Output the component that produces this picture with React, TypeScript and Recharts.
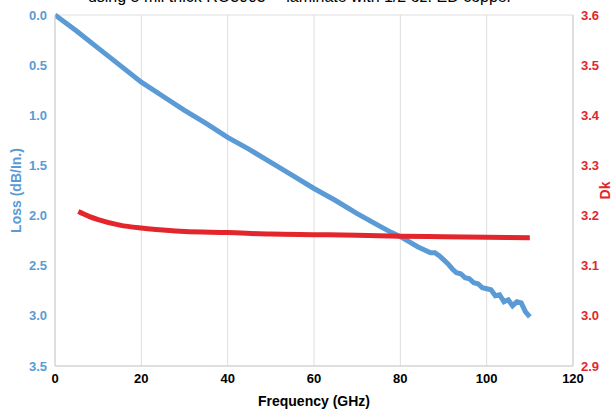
import React from "react";
import {
  ComposedChart,
  Line,
  XAxis,
  YAxis,
  CartesianGrid,
} from "recharts";

const freqTicks = [0, 20, 40, 60, 80, 100, 120];
const lossTicks = [0, 0.5, 1, 1.5, 2, 2.5, 3, 3.5];
const dkTicks = [2.9, 3.0, 3.1, 3.2, 3.3, 3.4, 3.5, 3.6];

const lossFreq = [
  0, 5, 10, 15, 20, 25, 30, 35, 40, 45, 50, 55, 60, 65, 70, 75, 78, 80, 82, 84,
  86, 87, 88, 89, 90, 91, 92, 93, 94, 95, 96, 97, 98, 99, 100, 101, 102, 103,
  104, 105, 106, 107, 108, 109, 110,
];
const lossValues = [
  0.0, 0.16, 0.33, 0.5, 0.67, 0.81, 0.95, 1.08, 1.22, 1.34, 1.47, 1.6, 1.73,
  1.85, 1.98, 2.1, 2.17, 2.21, 2.26, 2.31, 2.35, 2.37, 2.37, 2.4, 2.44, 2.48,
  2.53, 2.57, 2.58, 2.62, 2.63, 2.67, 2.68, 2.72, 2.73, 2.74, 2.8, 2.79, 2.86,
  2.84, 2.9, 2.86, 2.87, 2.96, 3.01,
];

const dkFreq = [5.4, 8, 10, 15, 20, 25, 30, 40, 50, 60, 70, 80, 90, 100, 110];
const dkValues = [
  3.208, 3.198, 3.192, 3.181, 3.175, 3.171, 3.168, 3.166, 3.163, 3.162, 3.161,
  3.159, 3.158, 3.157, 3.156,
];

const lossData = lossFreq.map((f, i) => ({ freq: f, loss: lossValues[i] }));
const dkData = dkFreq.map((f, i) => ({ freq: f, dk: dkValues[i] }));

const BLUE = "#5b9bd5";
const RED = "#e3262c";
const font = "'Liberation Sans', Arial, sans-serif";

export default function App() {
  return (
    <div
      style={{
        position: "absolute",
        left: 0,
        top: 0,
        width: 615,
        height: 410,
        overflow: "hidden",
        background: "#fff",
        fontFamily: font,
      }}
    >
      <div
        style={{
          position: "absolute",
          top: -12,
          left: 0,
          width: 600,
          textAlign: "center",
          fontSize: 16,
          color: "#000",
        }}
      >
        using 5 mil thick RO3003™ laminate with 1/2 oz. ED copper
      </div>
      <ComposedChart
        width={615}
        height={410}
        margin={{ top: 15, right: 7, bottom: 0, left: 10 }}
      >
        <CartesianGrid stroke="#dedede" />
        <XAxis
          dataKey="freq"
          type="number"
          domain={[0, 120]}
          ticks={freqTicks}
          allowDataOverflow
          height={44}
          tickLine={false}
          axisLine={{ stroke: "#cfcfcf" }}
          tick={{ fontFamily: font, fontSize: 13, fontWeight: 700, fill: "#000" }}
          label={{
            value: "Frequency (GHz)",
            position: "insideBottom",
            offset: 4,
            style: { fontFamily: font, fontSize: 14, fontWeight: 700, fill: "#000" },
          }}
        />
        <YAxis
          yAxisId="loss"
          reversed
          domain={[0, 3.5]}
          ticks={lossTicks}
          width={45}
          tickLine={false}
          axisLine={{ stroke: "#cfcfcf" }}
          tickFormatter={(v) => v.toFixed(1)}
          tick={{ fontFamily: font, fontSize: 13, fontWeight: 700, fill: BLUE }}
          label={{
            value: "Loss (dB/In.)",
            angle: -90,
            position: "insideLeft",
            offset: 6,
            style: { textAnchor: "middle", fontFamily: font, fontSize: 14, fontWeight: 700, fill: BLUE },
          }}
        />
        <YAxis
          yAxisId="dk"
          orientation="right"
          domain={[2.9, 3.6]}
          ticks={dkTicks}
          width={35}
          tickLine={false}
          axisLine={{ stroke: "#cfcfcf" }}
          tickFormatter={(v) => v.toFixed(1)}
          tick={{ fontFamily: font, fontSize: 13, fontWeight: 700, fill: RED }}
          label={{
            value: "Dk",
            angle: -90,
            position: "insideRight",
            offset: 3,
            style: { textAnchor: "middle", fontFamily: font, fontSize: 14, fontWeight: 700, fill: RED },
          }}
        />
        <Line
          yAxisId="loss"
          data={lossData}
          dataKey="loss"
          type="linear"
          stroke={BLUE}
          strokeWidth={5}
          dot={false}
          isAnimationActive={false}
        />
        <Line
          yAxisId="dk"
          data={dkData}
          dataKey="dk"
          type="monotone"
          stroke={RED}
          strokeWidth={5}
          dot={false}
          isAnimationActive={false}
        />
      </ComposedChart>
    </div>
  );
}
